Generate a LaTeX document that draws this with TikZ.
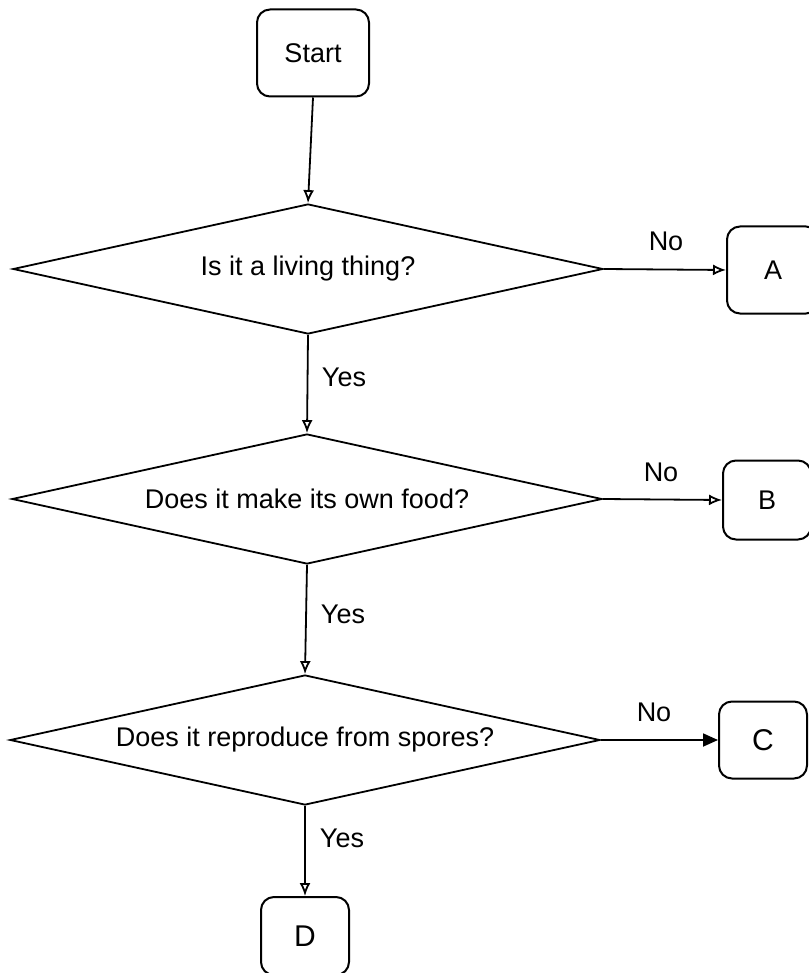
\documentclass[tikz,border=0pt]{standalone}
\usepackage{fontspec}
\setmainfont{Liberation Sans}
\usetikzlibrary{shapes.geometric,arrows.meta}
\begin{document}
\begin{tikzpicture}[x=1pt,y=-1pt,
  every node/.style={font=\fontsize{27}{32}\selectfont},
  termbox/.style={draw=black,line width=2pt,rounded corners=13pt,inner sep=0pt},
  decision/.style={draw=black,line width=1.8pt,diamond,shape aspect=4.54,minimum width=590pt,minimum height=130pt,inner sep=0pt},
  flow/.style={draw=black,line width=1.8pt,-{Latex[open,length=13pt,width=11pt]}},
  flowc/.style={draw=black,line width=1.8pt,-{Triangle[length=15pt,width=13pt]}},
  lbl/.style={inner sep=0pt}]
\useasboundingbox (0,0) rectangle (808,973);
\node[termbox,minimum width=112pt,minimum height=87pt] (start) at (313,53) {Start};
\node[decision] (d1) at (308,269) {Is it a living thing?};
\node[decision] (d2) at (307,499) {Does it make its own food?};
\node[decision] (d3) at (305,740) {Does it reproduce from spores?};
\node[termbox,minimum width=92pt,minimum height=87pt] (a) at (773,270) {A};
\node[termbox,minimum width=88pt,minimum height=79pt] (b) at (767,500) {B};
\node[termbox,minimum width=88pt,minimum height=77pt,font=\fontsize{30}{34}\selectfont] (c) at (763,740) {C};
\node[termbox,minimum width=88pt,minimum height=78pt,font=\fontsize{30}{34}\selectfont] (d) at (305,936) {D};
\draw[flow] (start.south) -- (d1.north);
\draw[flow] (d1.south) -- (d2.north);
\draw[flow] (d2.south) -- (d3.north);
\draw[flow] (d3.south) -- (d.north);
\draw[flow] (d1.east) -- (a.west);
\draw[flow] (d2.east) -- (b.west);
\draw[flowc] (d3.east) -- (c.west);
\node[lbl] (no1) at (666,241) {No};
\node[lbl] (no2) at (661,472) {No};
\node[lbl] (no3) at (654,712) {No};
\node[lbl] (yes1) at (344,377) {Yes};
\node[lbl] (yes2) at (343,614) {Yes};
\node[lbl] (yes3) at (342,838) {Yes};
\end{tikzpicture}
\end{document}
